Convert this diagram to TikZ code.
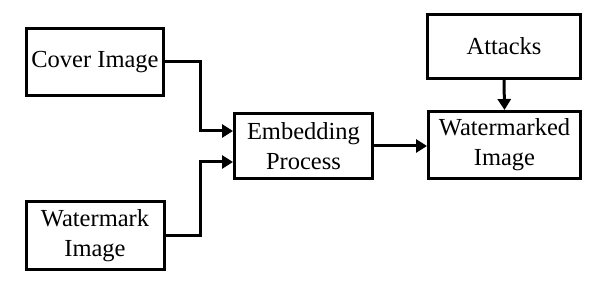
\documentclass[tikz,border=0pt]{standalone}
\usepackage{fontspec}
\setmainfont{Liberation Serif}
\usetikzlibrary{arrows.meta,calc}
\begin{document}
\begin{tikzpicture}[x=1pt,y=-1pt,
  blockbox/.style={draw=black,line width=3pt,align=center,inner sep=2pt,
    font=\fontsize{24.5}{30}\selectfont},
  arr/.style={line width=3pt,-{Triangle[length=11pt,width=13pt]}}]
  \useasboundingbox (0,0) rectangle (608,286);
  % input blocks
  \node[blockbox,minimum width=137pt,minimum height=67pt] (cover) at (95,62) {Cover Image};
  \node[blockbox,minimum width=138pt,minimum height=68pt] (wmark) at (95,235.5) {Watermark\\Image};
  % processing
  \node[blockbox,minimum width=138pt,minimum height=65pt] (embed) at (303.5,146) {Embedding\\Process};
  \node[blockbox,minimum width=152pt,minimum height=67pt] (marked) at (504.5,145) {Watermarked\\Image};
  \node[blockbox,minimum width=153pt,minimum height=64pt] (attacks) at (504,46.5) {Attacks};
  % connectors
  \draw[arr] (cover.east) -- ++(35,0) |- ($(embed.west)+(0,-15)$);
  \draw[arr] (wmark.east) -- ++(35,0) |- ($(embed.west)+(0,16)$);
  \draw[arr] (embed.east) -- (embed.east -| marked.west);
  \draw[arr] (attacks.south) -- (marked.north);
\end{tikzpicture}
\end{document}
